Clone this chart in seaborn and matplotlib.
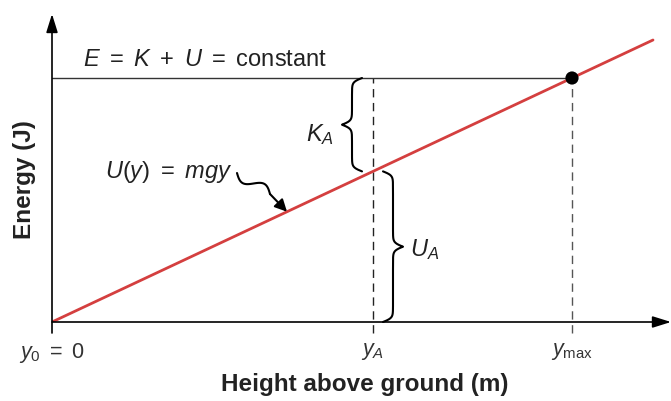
import numpy as np
import matplotlib
matplotlib.use("Agg")
import matplotlib.pyplot as plt
import seaborn as sns

# data (units: 1 = 100 px in the reference)
heights = [0.0, 6.01]          # red U(y) line
potential = [0.0, 2.82]
energy_x = [0.0, 5.20]         # E = const line
energy_y = [2.44, 2.44]
y_A = 3.21
y_max = 5.20
tick_pos = [0.0, y_A, y_max]
tick_labels = [r"$y_0\ =\ 0$", r"$y_A$", r"$y_{\mathrm{max}}$"]

sns.set_style("white")
plt.rcParams["font.family"] = ["Liberation Sans", "DejaVu Sans"]
plt.rcParams["mathtext.fontset"] = "custom"
plt.rcParams["mathtext.it"] = "Liberation Sans:italic"
plt.rcParams["mathtext.rm"] = "Liberation Sans"
plt.rcParams["mathtext.bf"] = "Liberation Sans:bold"

red = "#d43f3f"
ink = "#222222"

fig = plt.figure(figsize=(6.71, 4.01), dpi=100)
ax = fig.add_axes([52 / 671, 79 / 401, 616 / 671, 307 / 401])
ax.set_xlim(0, 6.16)
ax.set_ylim(0, 3.07)
for s in ax.spines.values():
    s.set_visible(False)

E = energy_y[0]
U_at_A = np.interp(y_A, heights, potential)

# dashed guides
ax.plot([y_A, y_A], [-0.11, E], ls=(0, (6, 4)), color=ink, lw=1, clip_on=False)
ax.plot([y_max, y_max], [-0.11, E], ls=(0, (6, 4)), color="#555555", lw=1, clip_on=False)

sns.lineplot(x=energy_x, y=energy_y, color="#333333", lw=1, ax=ax)
sns.lineplot(x=heights, y=potential, color=red, lw=2, ax=ax)
sns.scatterplot(x=[y_max], y=[E], color="black", s=90, zorder=5, ax=ax, edgecolor="none")

# axis arrows
arrow = dict(arrowstyle="-|>,head_length=0.8,head_width=0.25", color="black", lw=1.2,
             mutation_scale=14, shrinkA=0, shrinkB=0)
ax.annotate("", xy=(6.19, 0), xytext=(0, 0), arrowprops=arrow, annotation_clip=False)
ax.annotate("", xy=(0, 3.08), xytext=(0, -0.11), arrowprops=arrow, annotation_clip=False)


def brace(x, y_lo, y_hi, width, beta=50):
    t = np.linspace(0, (y_hi - y_lo) / 2, 200)
    half = 1 / (1 + np.exp(-beta * (t - t[0]))) + 1 / (1 + np.exp(-beta * (t - t[-1])))
    off = np.concatenate([half, half[-2::-1]])
    ys = np.linspace(y_lo, y_hi, len(off))
    ax.plot(x + (off - 1) * width, ys, color="black", lw=1.5, clip_on=False)


brace(y_A - 0.21, U_at_A, E, -0.2)
brace(y_A + 0.20, 0.0, U_at_A, 0.2)

fs = 17
ax.text(0.31, 2.62, r"$E\ =\ K\ +\ U\ =\ \mathrm{constant}$", fontsize=fs, color=ink, va="center")
ax.text(2.82, 1.87, r"$K_A$", fontsize=fs, color=ink, ha="right", va="center")
ax.text(3.58, 0.72, r"$U_A$", fontsize=fs, color=ink, ha="left", va="center")
ax.text(1.80, 1.50, r"$U(y)\ =\ mgy$", fontsize=fs, color=ink, ha="right", va="center")

# squiggly pointer to the U(y) line
A = np.array([1.85, 1.49])
B = np.array([2.18, 1.28])
d = B - A
n = np.array([-d[1], d[0]]) / np.hypot(*d)
t = np.linspace(0, 1, 100)
pts = A + np.outer(t, d) - np.outer(0.055 * np.sin(2 * np.pi * t), n)
ax.plot(pts[:, 0], pts[:, 1], color="black", lw=1.5)
tx = 2.35
ax.annotate("", xy=(tx, np.interp(tx, heights, potential)), xytext=tuple(B),
            arrowprops=dict(arrowstyle="-|>", color="black", lw=1.5, mutation_scale=18,
                            shrinkA=0, shrinkB=0))

ax.set_xticks(tick_pos)
ax.set_xticklabels(tick_labels, fontsize=15.5, color="#333333")
ax.tick_params(axis="x", length=0, pad=14)
ax.set_yticks([])

ax.set_xlabel("Height above ground (m)", fontsize=17.5, fontweight="bold", color=ink, va="center")
ax.xaxis.set_label_coords((365 - 52) / 616, -(385 - 322) / 307)
ax.set_ylabel("Energy (J)", fontsize=17.5, fontweight="bold", color=ink, va="center")
ax.yaxis.set_label_coords(-(52 - 25) / 616, (322 - 180) / 307)

fig.savefig("out.png", dpi=100)
